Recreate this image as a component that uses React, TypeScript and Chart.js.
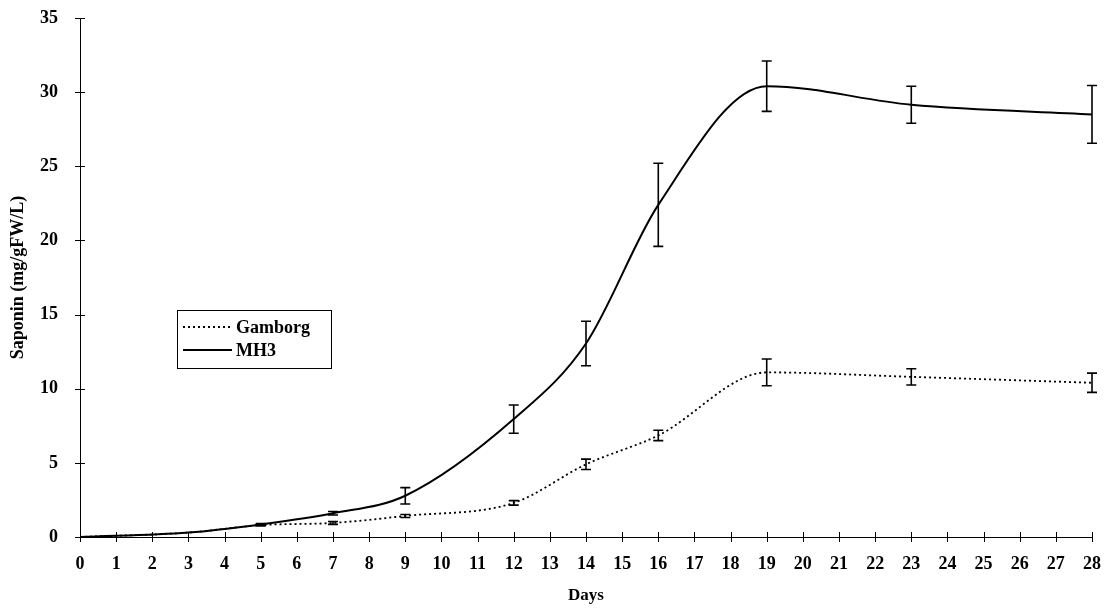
import React, { useEffect, useRef } from "react";
import { Chart, registerables } from "chart.js";
Chart.register(...registerables);

const days = [0, 3, 5, 7, 9, 12, 14, 16, 19, 23, 28];
const gamborg = [0, 0.3, 0.8, 0.95, 1.42, 2.3, 4.9, 6.85, 11.1, 10.8, 10.4];
const gamborgErr = [0, 0, 0.05, 0.1, 0.1, 0.15, 0.35, 0.35, 0.9, 0.55, 0.65];
const mh3 = [0, 0.3, 0.85, 1.6, 2.78, 7.95, 13.05, 22.4, 30.4, 29.15, 28.5];
const mh3Err = [0, 0, 0.05, 0.12, 0.55, 0.95, 1.5, 2.8, 1.7, 1.25, 1.95];
const seriesNames = ["Gamborg", "MH3"];
const yTicks = [0, 5, 10, 15, 20, 25, 30, 35];
const xTickMax = 28;

const FONT = "'Liberation Serif', 'Times New Roman', serif";

const errorBarsPlugin = {
  id: "errorBars",
  afterDatasetsDraw(chart: any) {
    const { ctx, scales } = chart;
    const x = scales.x;
    const y = scales.y;
    chart.data.datasets.forEach((ds: any) => {
      const errs: number[] = ds.errors || [];
      ds.data.forEach((p: any, i: number) => {
        const e = errs[i];
        if (!e) return;
        const px = x.getPixelForValue(p.x);
        const top = y.getPixelForValue(p.y + e);
        const bot = y.getPixelForValue(p.y - e);
        ctx.save();
        ctx.strokeStyle = "#000";
        ctx.lineWidth = 1.6;
        ctx.beginPath();
        ctx.moveTo(px, top);
        ctx.lineTo(px, bot);
        ctx.moveTo(px - 5, top);
        ctx.lineTo(px + 5, top);
        ctx.moveTo(px - 5, bot);
        ctx.lineTo(px + 5, bot);
        ctx.stroke();
        ctx.restore();
      });
    });
  },
  afterDraw(chart: any) {
    const { ctx, scales, chartArea } = chart;
    const x = scales.x;
    const y = scales.y;
    ctx.save();
    ctx.strokeStyle = "#000";
    ctx.lineWidth = 1;
    ctx.beginPath();
    for (let v = 0; v <= xTickMax; v++) {
      const px = Math.round(x.getPixelForValue(v)) + 0.5;
      ctx.moveTo(px, chartArea.bottom - 5);
      ctx.lineTo(px, chartArea.bottom + 5);
    }
    yTicks.forEach((v) => {
      const py = Math.round(y.getPixelForValue(v)) + 0.5;
      ctx.moveTo(chartArea.left - 5, py);
      ctx.lineTo(chartArea.left + 5, py);
    });
    ctx.stroke();

    // legend box
    const bx = 177, by = 310, bw = 154, bh = 58;
    ctx.lineWidth = 1;
    ctx.strokeRect(bx + 0.5, by + 0.5, bw, bh);
    chart.data.datasets.forEach((ds: any, i: number) => {
      const ly = by + 17 + i * 23;
      ctx.save();
      ctx.lineWidth = ds.borderWidth;
      ctx.setLineDash(ds.borderDash || []);
      ctx.beginPath();
      ctx.moveTo(bx + 6, ly);
      ctx.lineTo(bx + 55, ly);
      ctx.stroke();
      ctx.restore();
      ctx.fillStyle = "#000";
      ctx.font = `bold 18px ${FONT}`;
      ctx.textBaseline = "middle";
      ctx.textAlign = "left";
      ctx.fillText(ds.label, bx + 59, ly + 1);
    });
    ctx.restore();
  },
};

export default function App() {
  const ref = useRef<HTMLCanvasElement | null>(null);
  useEffect(() => {
    if (!ref.current) return;
    const chart = new Chart(ref.current, {
      type: "line",
      data: {
        datasets: [
          {
            label: seriesNames[0],
            data: days.map((d, i) => ({ x: d, y: gamborg[i] })),
            errors: gamborgErr,
            borderColor: "#000",
            borderWidth: 1.8,
            borderDash: [2, 3],
            pointRadius: 0,
            cubicInterpolationMode: "monotone",
            fill: false,
          } as any,
          {
            label: seriesNames[1],
            data: days.map((d, i) => ({ x: d, y: mh3[i] })),
            errors: mh3Err,
            borderColor: "#000",
            borderWidth: 2,
            pointRadius: 0,
            cubicInterpolationMode: "monotone",
            fill: false,
          } as any,
        ],
      },
      options: {
        animation: false,
        responsive: false,
        layout: { padding: { top: 18, right: 12, left: 0, bottom: 0 } },
        plugins: { legend: { display: false }, tooltip: { enabled: false } },
        scales: {
          x: {
            type: "linear",
            min: 0,
            max: xTickMax,
            afterFit: (s: any) => {
              s.height = 79;
              s.paddingLeft = 0;
              s.paddingRight = 0;
            },
            grid: { display: false, drawTicks: false },
            border: { display: true, color: "#000", width: 1 },
            ticks: {
              stepSize: 1,
              color: "#000",
              padding: 17,
              maxRotation: 0,
              autoSkip: false,
              font: { family: FONT, size: 18, weight: "bold" },
            },
            title: {
              display: true,
              text: "Days",
              color: "#000",
              font: { family: FONT, size: 17, weight: "bold" },
              padding: { top: 0, bottom: 10 },
            },
          },
          y: {
            min: 0,
            max: 35,
            afterFit: (s: any) => {
              s.width = 80;
              s.paddingTop = 0;
              s.paddingBottom = 0;
            },
            grid: { display: false, drawTicks: false },
            border: { display: true, color: "#000", width: 1 },
            ticks: {
              stepSize: 5,
              color: "#000",
              padding: 22,
              font: { family: FONT, size: 18, weight: "bold" },
            },
            title: {
              display: true,
              text: "Saponin (mg/gFW/L)",
              color: "#000",
              font: { family: FONT, size: 18, weight: "bold" },
              padding: { top: 8, bottom: 0 },
            },
          },
        },
      } as any,
      plugins: [errorBarsPlugin],
    });
    return () => chart.destroy();
  }, []);
  return (
    <div style={{ position: "fixed", left: 0, top: 0, width: 1104, height: 616, background: "#fff" }}>
      <canvas ref={ref} width={1104} height={616} style={{ display: "block" }} />
    </div>
  );
}
